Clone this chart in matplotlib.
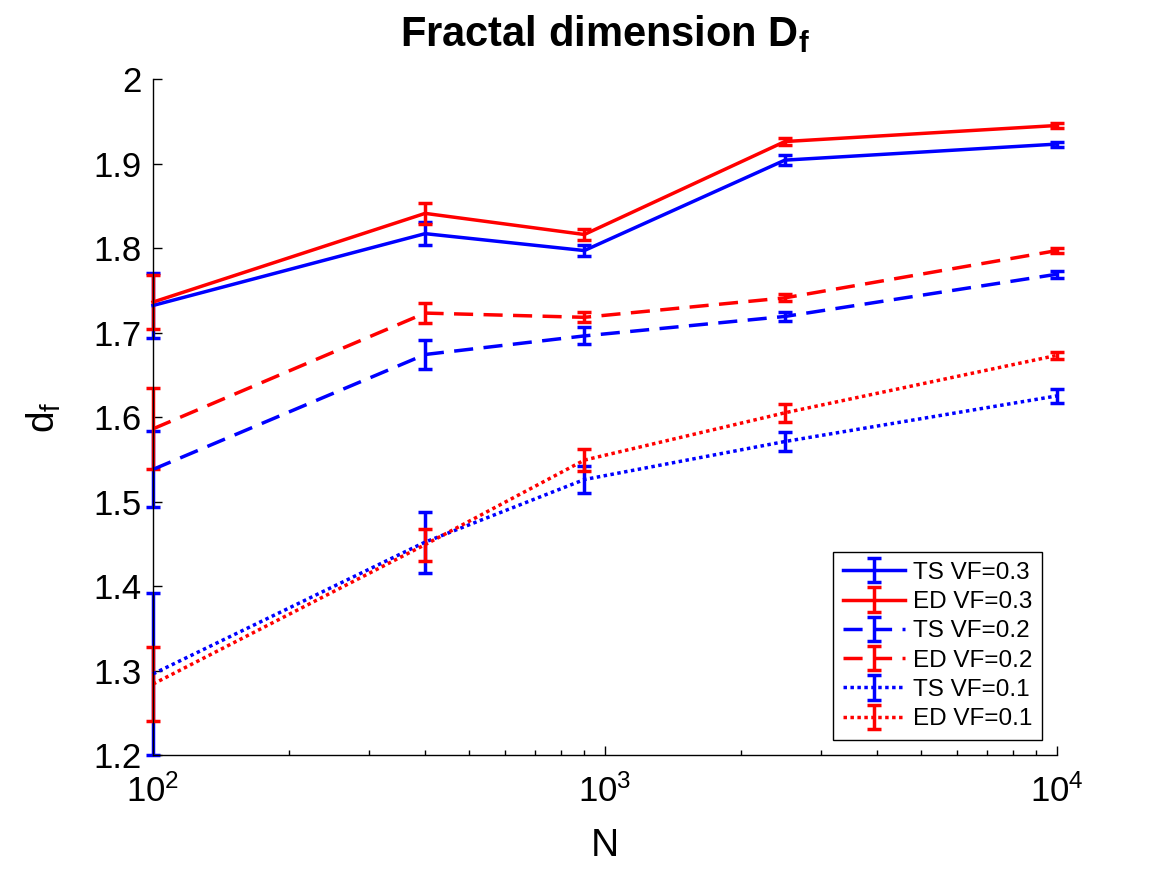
import matplotlib
matplotlib.use("Agg")
import matplotlib.pyplot as plt
from matplotlib.ticker import FormatStrFormatter, LogLocator

plt.rcParams['font.family'] = ['Liberation Sans', 'DejaVu Sans']
plt.rcParams['mathtext.fontset'] = 'custom'
plt.rcParams['mathtext.rm'] = 'Liberation Sans'
plt.rcParams['mathtext.it'] = 'Liberation Sans:italic'
plt.rcParams['mathtext.bf'] = 'Liberation Sans:bold'

N = [100, 400, 900, 2500, 10000]

ts03 = [1.732, 1.817, 1.797, 1.904, 1.923]
ts03_err = [0.039, 0.014, 0.006, 0.006, 0.003]
ed03 = [1.736, 1.841, 1.816, 1.926, 1.945]
ed03_err = [0.032, 0.012, 0.006, 0.004, 0.003]
ts02 = [1.538, 1.674, 1.696, 1.719, 1.769]
ts02_err = [0.045, 0.017, 0.010, 0.005, 0.004]
ed02 = [1.586, 1.723, 1.718, 1.741, 1.797]
ed02_err = [0.048, 0.012, 0.006, 0.004, 0.003]
ts01 = [1.296, 1.452, 1.526, 1.571, 1.625]
ts01_err = [0.096, 0.036, 0.016, 0.011, 0.008]
ed01 = [1.284, 1.449, 1.549, 1.605, 1.673]
ed01_err = [0.044, 0.019, 0.013, 0.011, 0.004]

labels = ['TS VF=0.3', 'ED VF=0.3', 'TS VF=0.2', 'ED VF=0.2', 'TS VF=0.1', 'ED VF=0.1']
yticks = [1.2, 1.3, 1.4, 1.5, 1.6, 1.7, 1.8, 1.9, 2.0]

series = [
    (ts03, ts03_err, 'blue', '-'),
    (ed03, ed03_err, 'red', '-'),
    (ts02, ts02_err, 'blue', (0, (5.5, 3.0))),
    (ed02, ed02_err, 'red', (0, (5.5, 3.0))),
    (ts01, ts01_err, 'blue', (0, (1, 1))),
    (ed01, ed01_err, 'red', (0, (1, 1))),
]

fig = plt.figure(figsize=(11.67, 8.75), dpi=100)
ax = fig.add_axes([0.1311, 0.1371, 0.7746, 0.7726])

lw = 2.5
for (y, e, c, ls), lab in zip(series, labels):
    eb = ax.errorbar(N, y, yerr=e, color=c, linestyle=ls, linewidth=lw,
                     elinewidth=lw, capsize=4.7, capthick=lw, label=lab)
    for art in eb.lines[0:1]:
        art.set_clip_on(False)
    for art in eb.lines[1]:
        art.set_clip_on(False)
    for art in eb.lines[2]:
        art.set_clip_on(False)

ax.set_xscale('log')
ax.set_xlim(100, 10000)
ax.set_ylim(1.2, 2.0)
ax.set_yticks(yticks)
ax.yaxis.set_major_formatter(FormatStrFormatter('%g'))
ax.xaxis.set_minor_locator(LogLocator(base=10, subs=range(2, 10)))

ax.spines['top'].set_visible(False)
ax.spines['right'].set_visible(False)
for s in ['left', 'bottom']:
    ax.spines[s].set_linewidth(1.0)
ax.tick_params(which='both', direction='in', labelsize=25, width=1.0)
ax.tick_params(which='major', length=6.5)
ax.tick_params(which='minor', length=3.5)
ax.tick_params(axis='x', pad=14)
ax.tick_params(axis='y', pad=8)

ax.set_xlabel('N', fontsize=28, labelpad=14)
ax.set_ylabel(r'd$_\mathrm{f}$', fontsize=28, labelpad=22)
ax.set_title(r'Fractal dimension D$_\mathbf{f}$', fontsize=30, fontweight='bold', pad=24)

leg = ax.legend(loc='lower right', fontsize=17.5, frameon=True, fancybox=False,
                edgecolor='black', framealpha=1, borderaxespad=0.62,
                handlelength=2.55, labelspacing=0.3, handletextpad=0.33,
                borderpad=0.4)
leg.get_frame().set_linewidth(1.0)

fig.savefig('out.png', dpi=100)
